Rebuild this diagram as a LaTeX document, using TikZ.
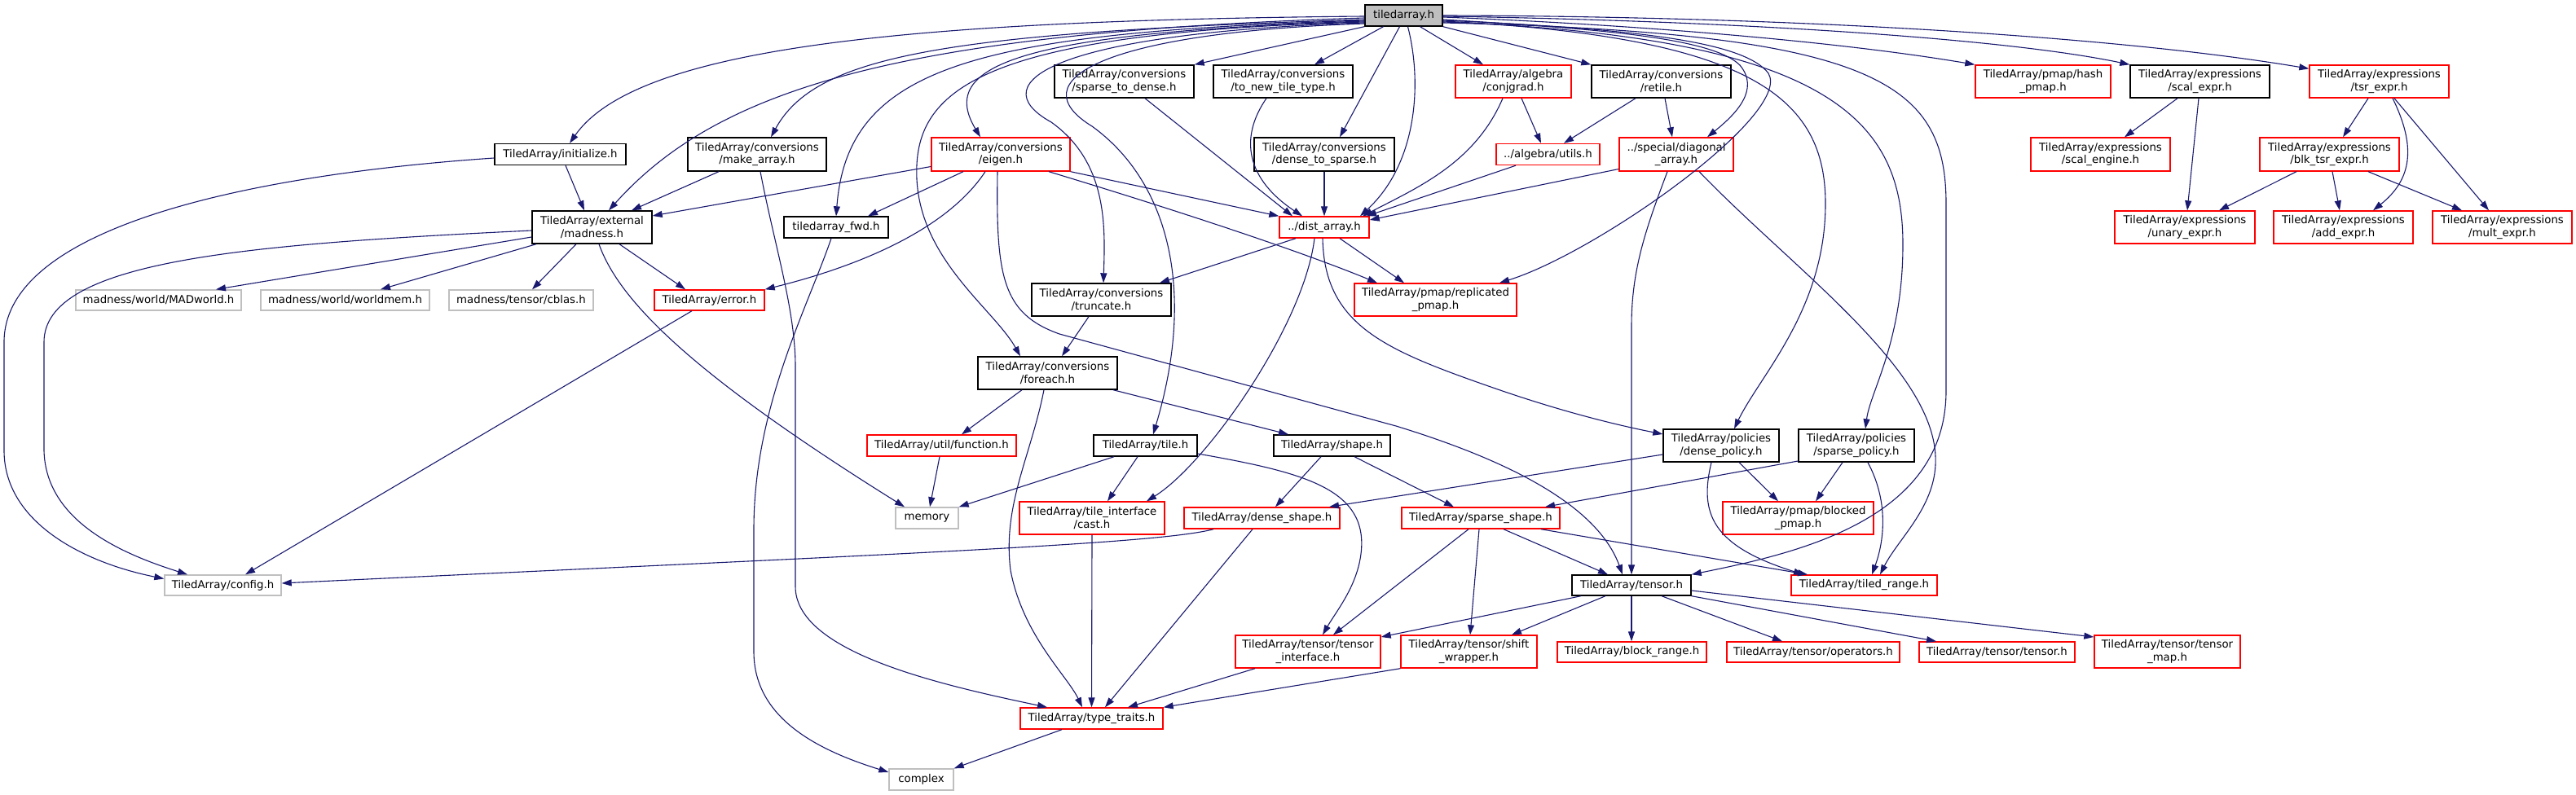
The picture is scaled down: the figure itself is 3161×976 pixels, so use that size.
\documentclass[tikz,border=0pt]{standalone}
\usepackage{fontspec}
\setmainfont{DejaVu Sans}
\usetikzlibrary{arrows.meta}
\definecolor{edgecol}{HTML}{191970}
\definecolor{grey75}{HTML}{BFBFBF}
\newcommand\fsz{\fontsize{13.3}{15.5}\selectfont}
\newcommand\mynode[6]{\node[#1,minimum width=#4pt,minimum height=#5pt] (#2) at (#3) {#6};}
\tikzset{
  box/.style={rectangle, draw, inner sep=0pt, align=center, font=\fsz, line width=1.4pt, fill=white},
  bbox/.style={box, draw=black},
  rbox/.style={box, draw=red},
  gbox/.style={box, draw=grey75},
  rootbox/.style={box, draw=black, fill=grey75},
  edge/.style={draw=edgecol, line width=1.1pt, -{Triangle[length=12pt,width=8pt]}},
}
\begin{document}
\begin{tikzpicture}[x=1pt,y=-1pt]
\fill[white] (0,0) rectangle (3161,976);
\useasboundingbox (0,0) rectangle (3161,976);
% nodes
\mynode{rootbox}{ta}{1722.5,19}{95}{26}{tiledarray.h}
\mynode{bbox}{init}{687.5,189.5}{161}{26}{TiledArray/initialize.h}
\mynode{bbox}{madness}{726.5,279}{147}{40}{TiledArray/external\\/madness.h}
\mynode{bbox}{s2d}{1379.5,100}{171}{40}{TiledArray/conversions\\/sparse\_to\_dense.h}
\mynode{bbox}{tnt}{1574.5,100}{171}{40}{TiledArray/conversions\\/to\_new\_tile\_type.h}
\mynode{bbox}{make}{929,189.5}{170}{41}{TiledArray/conversions\\/make\_array.h}
\mynode{rbox}{eigen}{1228,189.5}{170}{41}{TiledArray/conversions\\/eigen.h}
\mynode{bbox}{fwd}{1026,279}{128}{26}{tiledarray\_fwd.h}
\mynode{bbox}{d2s}{1625,189.5}{172}{41}{TiledArray/conversions\\/dense\_to\_sparse.h}
\mynode{rbox}{dist}{1625,279}{110}{26}{../dist\_array.h}
\mynode{rbox}{conj}{1857,100}{142}{40}{TiledArray/algebra\\/conjgrad.h}
\mynode{bbox}{retile}{2038.5,100}{171}{40}{TiledArray/conversions\\/retile.h}
\mynode{rbox}{autils}{1899.5,189.5}{127}{26}{../algebra/utils.h}
\mynode{rbox}{diag}{2057,189.5}{140}{41}{../special/diagonal\\\_array.h}
\mynode{rbox}{hash}{2507,100}{166}{40}{TiledArray/pmap/hash\\\_pmap.h}
\mynode{bbox}{scal}{2699.5,100}{171}{40}{TiledArray/expressions\\/scal\_expr.h}
\mynode{rbox}{tsr}{2919.5,100}{171}{40}{TiledArray/expressions\\/tsr\_expr.h}
\mynode{rbox}{sengine}{2577.5,189.5}{171}{41}{TiledArray/expressions\\/scal\_engine.h}
\mynode{rbox}{blk}{2858.5,189.5}{171}{41}{TiledArray/expressions\\/blk\_tsr\_expr.h}
\mynode{rbox}{unary}{2681,279}{172}{40}{TiledArray/expressions\\/unary\_expr.h}
\mynode{rbox}{add}{2875.5,279}{171}{40}{TiledArray/expressions\\/add\_expr.h}
\mynode{rbox}{mult}{3070.5,279}{171}{40}{TiledArray/expressions\\/mult\_expr.h}
\mynode{gbox}{madw}{194.5,368.5}{203}{25}{madness/world/MADworld.h}
\mynode{gbox}{wmem}{423.5,368.5}{207}{25}{madness/world/worldmem.h}
\mynode{gbox}{cblas}{639.5,368.5}{177}{25}{madness/tensor/cblas.h}
\mynode{rbox}{error}{870.5,368.5}{135}{25}{TiledArray/error.h}
\mynode{bbox}{trunc}{1351.5,368}{171}{40}{TiledArray/conversions\\/truncate.h}
\mynode{rbox}{repl}{1761.5,368}{199}{40}{TiledArray/pmap/replicated\\\_pmap.h}
\mynode{bbox}{foreach}{1285.5,458}{171}{40}{TiledArray/conversions\\/foreach.h}
\mynode{rbox}{func}{1155.5,547}{183}{26}{TiledArray/util/function.h}
\mynode{bbox}{tile}{1405.5,547}{127}{26}{TiledArray/tile.h}
\mynode{bbox}{shape}{1634.5,547}{143}{26}{TiledArray/shape.h}
\mynode{bbox}{dpol}{2112,547}{142}{40}{TiledArray/policies\\/dense\_policy.h}
\mynode{bbox}{spol}{2278,547}{142}{40}{TiledArray/policies\\/sparse\_policy.h}
\mynode{gbox}{memory}{1137.5,636}{77}{26}{memory}
\mynode{rbox}{cast}{1340,636}{178}{40}{TiledArray/tile\_interface\\/cast.h}
\mynode{rbox}{dshape}{1548.5,636}{191}{26}{TiledArray/dense\_shape.h}
\mynode{rbox}{sshape}{1817,636}{194}{26}{TiledArray/sparse\_shape.h}
\mynode{rbox}{blocked}{2206.5,636}{185}{40}{TiledArray/pmap/blocked\\\_pmap.h}
\mynode{gbox}{config}{273.5,718.5}{143}{25}{TiledArray/config.h}
\mynode{bbox}{tensorh}{2002,718.5}{146}{25}{TiledArray/tensor.h}
\mynode{rbox}{trange}{2287.5,718.5}{179}{25}{TiledArray/tiled\_range.h}
\mynode{rbox}{tint}{1605,800}{178}{40}{TiledArray/tensor/tensor\\\_interface.h}
\mynode{rbox}{shift}{1802.5,800}{167}{40}{TiledArray/tensor/shift\\\_wrapper.h}
\mynode{rbox}{brange}{2002.5,800.5}{183}{25}{TiledArray/block\_range.h}
\mynode{rbox}{ops}{2225,800.5}{212}{25}{TiledArray/tensor/operators.h}
\mynode{rbox}{ttensor}{2450.5,800.5}{191}{25}{TiledArray/tensor/tensor.h}
\mynode{rbox}{tmap}{2659.5,800}{179}{40}{TiledArray/tensor/tensor\\\_map.h}
\mynode{rbox}{traits}{1339.5,882}{175}{26}{TiledArray/type\_traits.h}
\mynode{gbox}{complex}{1130.5,957}{79}{26}{complex}
% edges from tiledarray.h
\draw[edge] ([yshift=-1pt]ta.west) .. controls (1100,25) and (780,60) .. ([xshift=11.5pt]init.north);
\draw[edge] ([yshift=-3pt]ta.west) .. controls (1100,40) and (880,110) .. ([xshift=20.5pt]madness.north);
\draw[edge] ([yshift=-5pt]ta.west) .. controls (1150,40) and (1000,70) .. ([xshift=17pt]make.north);
\draw[edge] ([yshift=-6pt]ta.west) .. controls (1200,40) and (1040,80) .. (fwd.north);
\draw[edge] ([yshift=-7pt]ta.west) .. controls (1250,40) and (1150,80) .. ([xshift=-25pt]eigen.north);
\draw[edge] ([yshift=-8pt]ta.west) .. controls (1200,40) and (1120,110) .. (1125,220) .. controls (1130,320) and (1220,380) .. ([xshift=-33.5pt]foreach.north);
\draw[edge] ([yshift=-9pt]ta.west) .. controls (1300,40) and (1200,100) .. (1290,150) .. controls (1360,200) and (1356,280) .. ([xshift=2.5pt]trunc.north);
\draw[edge] ([yshift=-10pt]ta.west) .. controls (1350,40) and (1250,100) .. (1340,155) .. controls (1430,220) and (1470,350) .. ([xshift=9.5pt]tile.north);
\draw[edge] (ta.south west) -- (s2d.north east);
\draw[edge] ([xshift=-25pt]ta.south) -- ([xshift=38.5pt]tnt.north);
\draw[edge] ([xshift=-5pt]ta.south) -- ([xshift=19pt]d2s.north);
\draw[edge] ([xshift=5pt]ta.south) .. controls (1745,100) and (1740,200) .. ([xshift=44pt]dist.north);
\draw[edge] ([xshift=20pt]ta.south) -- ([xshift=-37pt]conj.north);
\draw[edge] (ta.south east) -- (retile.north west);
\draw[edge] ([yshift=-5pt]ta.east) .. controls (1950,35) and (2100,45) .. (2135,80) .. controls (2160,110) and (2130,140) .. ([xshift=38pt]diag.north);
\draw[edge] ([yshift=-6pt]ta.east) .. controls (2000,35) and (2140,50) .. (2170,90) .. controls (2200,140) and (1960,310) .. ([xshift=78.5pt]repl.north);
\draw[edge] ([yshift=-7pt]ta.east) .. controls (2150,45) and (2240,120) .. (2240,250) .. controls (2240,380) and (2160,460) .. ([xshift=16pt]dpol.north);
\draw[edge] ([yshift=-8pt]ta.east) .. controls (2250,45) and (2335,150) .. (2335,300) .. controls (2335,420) and (2295,480) .. ([xshift=11pt]spol.north);
\draw[edge] ([yshift=-9pt]ta.east) .. controls (2300,40) and (2388,100) .. (2388,250) -- (2388,480) .. controls (2388,640) and (2200,680) .. (tensorh.north east);
\draw[edge] ([yshift=-2pt]ta.east) .. controls (2000,30) and (2250,50) .. (hash.north west);
\draw[edge] ([yshift=-1pt]ta.east) .. controls (2100,25) and (2450,45) .. (scal.north west);
\draw[edge] (ta.east) .. controls (2200,20) and (2600,45) .. ([yshift=-5pt]tsr.north west);
% left part
\draw[edge] ([xshift=6.5pt]init.south) -- ([xshift=-9.5pt]madness.north);
\draw[edge] ([yshift=-4.5pt]init.west) .. controls (300,215) and (5,280) .. (5,420) -- (5,553) .. controls (5,640) and (100,690) .. ([yshift=8pt]config.west);
\draw[edge] ([yshift=-4pt]madness.west) .. controls (300,300) and (54,320) .. (54,420) -- (54,553) .. controls (56,640) and (150,680) .. ([xshift=-43.5pt]config.north);
\draw[edge] ([yshift=-12pt]madness.west) -- ([xshift=70.5pt]madw.north);
\draw[edge] ([xshift=-68.5pt]madness.south) -- ([xshift=43.5pt]wmem.north);
\draw[edge] ([xshift=-19.5pt]madness.south) -- ([xshift=13.5pt]cblas.north);
\draw[edge] ([xshift=8.5pt]madness.south) .. controls (760,370) and (850,460) .. ([xshift=-27.5pt]memory.north);
\draw[edge] ([xshift=33.5pt]madness.south) -- ([xshift=-29.5pt]error.north);
\draw[edge] ([xshift=-47pt]make.south) -- ([xshift=48.5pt]madness.north);
\draw[edge] ([yshift=-15pt]eigen.west) -- ([yshift=14pt]madness.east);
\draw[edge] ([xshift=4pt]make.south) .. controls (950,300) and (976,380) .. (976,450) -- (976,720) .. controls (976,800) and (1150,840) .. ([xshift=-54.5pt]traits.north);
\draw[edge] ([xshift=-46pt]eigen.south) -- ([xshift=39pt]fwd.north);
\draw[edge] ([xshift=-19pt]eigen.south) .. controls (1150,300) and (1000,340) .. (error.north east);
\draw[edge] ([xshift=-4pt]eigen.south) .. controls (1222,340) and (1230,385) .. (1300,410) -- (1713,523) .. controls (1850,565) and (1960,620) .. ([xshift=-11pt]tensorh.north);
\draw[edge] ([xshift=59pt]eigen.south) .. controls (1450,260) and (1600,310) .. ([xshift=-71.5pt]repl.north);
\draw[edge] (eigen.south east) -- (dist.north west);
\draw[edge] ([xshift=25.5pt]s2d.south) -- ([xshift=-39pt]dist.north);
\draw[edge] ([xshift=-20.5pt]tnt.south) .. controls (1520,170) and (1530,220) .. ([xshift=-27pt]dist.north);
\draw[edge] (d2s.south) -- (dist.north);
\draw[edge] ([xshift=-13pt]conj.south) .. controls (1810,200) and (1740,230) .. ([xshift=47pt]dist.north);
\draw[edge] ([xshift=10pt]conj.south) -- ([xshift=-8.5pt]autils.north);
\draw[edge] ([xshift=-31.5pt]retile.south) -- ([xshift=19.5pt]autils.north);
\draw[edge] ([xshift=4.5pt]retile.south) -- ([xshift=-5pt]diag.north);
\draw[edge] ([xshift=-39.5pt]autils.south) -- ([xshift=52pt]dist.north);
\draw[edge] ([yshift=-18pt]diag.west) -- ([yshift=9pt]dist.east);
\draw[edge] ([xshift=-11pt]diag.south) .. controls (2020,280) and (2002,330) .. (2002,400) -- (tensorh.north);
\draw[edge] ([xshift=28pt]diag.south) .. controls (2200,330) and (2370,450) .. (2375,560) .. controls (2378,620) and (2330,660) .. ([xshift=19.5pt]trange.north);
% dist_array
\draw[edge] ([xshift=-35pt]dist.south) -- ([xshift=71.5pt]trunc.north);
\draw[edge] ([xshift=19pt]dist.south) -- ([xshift=-38.5pt]repl.north);
\draw[edge] ([xshift=-12pt]dist.south) .. controls (1600,400) and (1480,570) .. ([xshift=67pt]cast.north);
\draw[edge] ([xshift=-2pt]dist.south) .. controls (1625,400) and (1700,430) .. (1835,477) .. controls (1930,510) and (2000,525) .. ([yshift=14pt]dpol.west);
% middle
\draw[edge] ([xshift=-15.5pt]trunc.south) -- ([xshift=17.5pt]foreach.north);
\draw[edge] ([xshift=-31.5pt]foreach.south) -- ([xshift=24.5pt]func.north);
\draw[edge] ([xshift=80.5pt]foreach.south) -- ([xshift=-53.5pt]shape.north);
\draw[edge] ([xshift=-4.5pt]foreach.south) .. controls (1265,560) and (1230,620) .. (1240,700) .. controls (1255,780) and (1310,830) .. ([xshift=-11.5pt]traits.north);
\draw[edge] ([xshift=-2.5pt]func.south) -- ([xshift=3.5pt]memory.north);
\draw[edge] ([xshift=-38.5pt]tile.south) -- (memory.north east);
\draw[edge] ([xshift=-9.5pt]tile.south) -- ([xshift=19pt]cast.north);
\draw[edge] ([yshift=-10pt]tile.east) .. controls (1600,580) and (1680,600) .. (1670,680) .. controls (1665,720) and (1640,750) .. ([xshift=18pt]tint.north);
\draw[edge] ([xshift=-13.5pt]shape.south) -- ([xshift=16.5pt]dshape.north);
\draw[edge] ([xshift=27.5pt]shape.south) -- ([xshift=-33pt]sshape.north);
\draw[edge] ([yshift=-11pt]dpol.west) -- ([xshift=82.5pt]dshape.north);
\draw[edge] ([xshift=22pt]dpol.south) -- ([xshift=-24.5pt]blocked.north);
\draw[edge] ([xshift=-12pt]dpol.south) .. controls (2085,630) and (2100,670) .. ([xshift=-74.5pt]trange.north);
\draw[edge] ([yshift=-19pt]spol.west) -- ([xshift=79pt]sshape.north);
\draw[edge] ([xshift=-17pt]spol.south) -- ([xshift=21.5pt]blocked.north);
\draw[edge] ([xshift=14pt]spol.south) .. controls (2320,620) and (2310,670) .. ([xshift=9.5pt]trange.north);
\draw[edge] (cast.south) -- (traits.north);
\draw[edge] ([xshift=-11.5pt]dshape.south) -- ([xshift=16.5pt]traits.north);
\draw[edge] ([xshift=-59.5pt]dshape.south) .. controls (1420,668) and (1100,680) .. ([yshift=2.5pt]config.east);
\draw[edge] ([xshift=-15pt]sshape.south) -- ([xshift=31pt]tint.north);
\draw[edge] ([xshift=-2pt]sshape.south) -- ([xshift=1.5pt]shift.north);
\draw[edge] ([xshift=28pt]sshape.south) -- ([xshift=-29pt]tensorh.north);
\draw[edge] ([xshift=74pt]sshape.south) -- ([xshift=-69.5pt]trange.north);
\draw[edge] ([xshift=-62pt]tensorh.south) -- ([yshift=18pt]tint.east);
\draw[edge] ([xshift=-32pt]tensorh.south) -- ([xshift=52.5pt]shift.north);
\draw[edge] (tensorh.south) -- ([xshift=-0.5pt]brange.north);
\draw[edge] ([xshift=37pt]tensorh.south) -- ([xshift=-38pt]ops.north);
\draw[edge] (tensorh.south east) -- ([xshift=-74.5pt]ttensor.north);
\draw[edge] ([yshift=-6.5pt]tensorh.east) -- ([yshift=18pt]tmap.west);
\draw[edge] ([xshift=-65pt]tint.south) -- ([xshift=44.5pt]traits.north);
\draw[edge] (shift.south west) -- (traits.north east);
\draw[edge] ([xshift=-36.5pt]traits.south) -- (complex.north east);
\draw[edge] ([xshift=-6pt]fwd.south) .. controls (990,380) and (925,500) .. (925,650) -- (925,800) .. controls (925,880) and (1000,920) .. ([yshift=9pt]complex.west);
\draw[edge] ([xshift=-21.5pt]error.south) -- ([xshift=27.5pt]config.north);
% expressions
\draw[edge] ([xshift=-27.5pt]scal.south) -- ([xshift=29.5pt]sengine.north);
\draw[edge] ([xshift=-1.5pt]scal.south) -- ([xshift=3pt]unary.north);
\draw[edge] ([xshift=-13.5pt]tsr.south) -- ([xshift=16.5pt]blk.north);
\draw[edge] ([xshift=16.5pt]tsr.south) .. controls (2965,180) and (2960,220) .. ([xshift=36.5pt]add.north);
\draw[edge] ([xshift=18.5pt]tsr.south) -- ([xshift=-16.5pt]mult.north);
\draw[edge] ([xshift=-40.5pt]blk.south) -- ([xshift=42pt]unary.north);
\draw[edge] ([xshift=3.5pt]blk.south) -- ([xshift=-4.5pt]add.north);
\draw[edge] ([xshift=47.5pt]blk.south) -- ([xshift=-49.5pt]mult.north);
\end{tikzpicture}
\end{document}
